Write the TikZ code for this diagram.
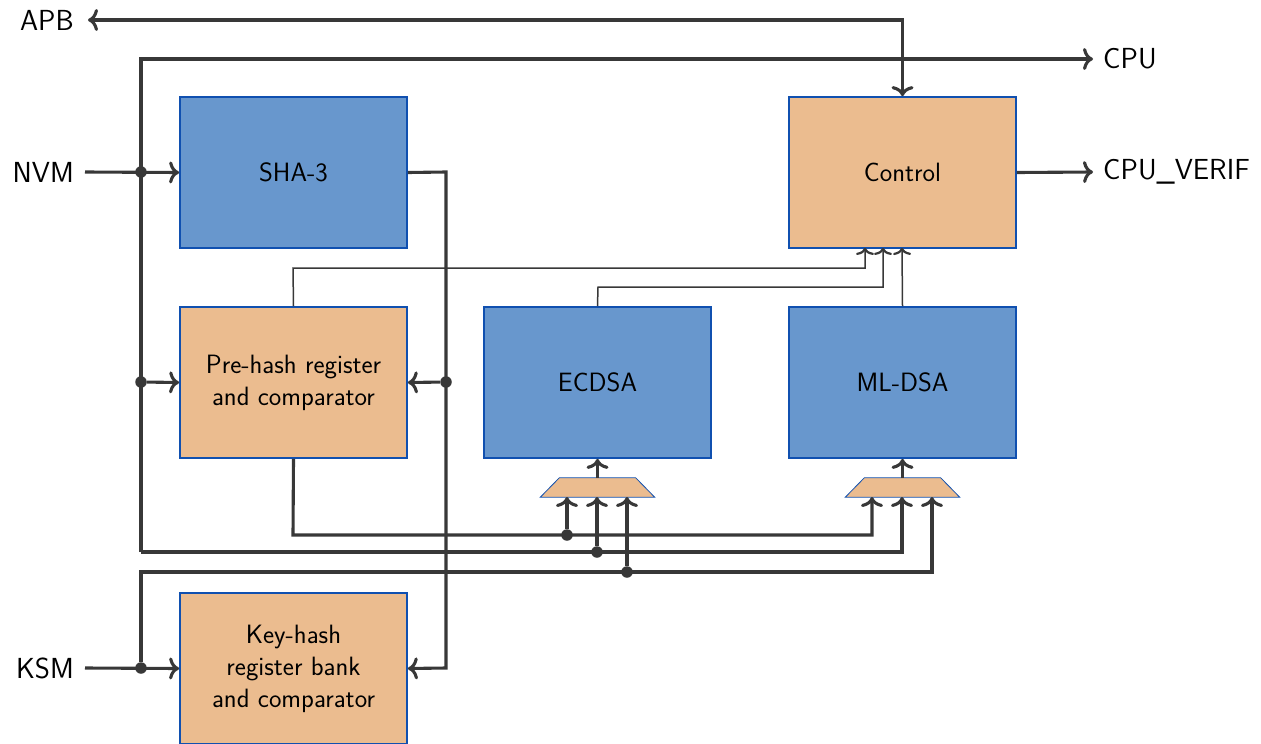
\documentclass[tikz,border=0pt]{standalone}
\usetikzlibrary{arrows.meta}
\definecolor{boxblue}{HTML}{6897CD}
\definecolor{boxtan}{HTML}{EBBC8F}
\definecolor{edgeblue}{HTML}{1050B0}
\definecolor{wirec}{HTML}{383838}
\tikzset{
  blk/.style={draw=edgeblue, line width=1.8pt, minimum width=227pt, minimum height=151pt,
    inner sep=0pt, align=center, font=\sffamily\fontsize{26.5}{32}\selectfont},
  bluebox/.style={blk, fill=boxblue},
  tanbox/.style={blk, fill=boxtan},
  muxarea/.style={rectangle, minimum width=114pt, minimum height=19pt, inner sep=0pt},
  muxshape/.style={draw=edgeblue, line width=0.8pt, fill=boxtan, line join=miter},
  wire/.style={draw=wirec, line width=3.1pt},
  thinwire/.style={draw=wirec, line width=1.5pt},
  arr/.style={-{Computer Modern Rightarrow[length=10pt,width=22pt]}},
  arrboth/.style={{Computer Modern Rightarrow[length=10pt,width=22pt]}-{Computer Modern Rightarrow[length=10pt,width=22pt]}},
  tarr/.style={-{Computer Modern Rightarrow[length=7pt,width=18pt,line width=2.2pt]}},
  jdot/.style={circle, fill=wirec, inner sep=0pt, minimum size=11.5pt},
  lbl/.style={font=\sffamily\fontsize{29}{32}\selectfont, inner ysep=0pt},
}
\begin{document}
\begin{tikzpicture}[x=1pt,y=-1pt]
\useasboundingbox (0,0) rectangle (1261,744);

% blocks
\node[bluebox] (sha) at (293.5,172.5) {SHA-3};
\node[tanbox] (ctrl) at (902.5,172.5) {Control};
\node[tanbox] (pre) at (293.5,382.5) {Pre-hash register\\and comparator};
\node[bluebox] (ecdsa) at (597.5,382.5) {ECDSA};
\node[bluebox] (mldsa) at (902.5,382.5) {ML-DSA};
\node[tanbox] (key) at (293.5,668.5) {Key-hash\\register bank\\and comparator};

% muxes
\node[muxarea] (emux) at (597.5,487.5) {};
\node[muxarea] (mmux) at (902.5,487.5) {};
\foreach \m in {emux,mmux}{
  \path[muxshape] (\m.south west) -- (\m.south east) -- ([xshift=-19pt]\m.north east)
    -- ([xshift=19pt]\m.north west) -- cycle;
}

% labels
\node[lbl, anchor=east, inner xsep=14pt] (apb) at (88,20) {APB};
\node[lbl, anchor=west, inner xsep=10pt] (cpu) at (1093,59) {CPU};
\node[lbl, anchor=west, inner xsep=10pt] (cpuv) at (1093,172) {CPU\_VERIF};
\node[lbl, anchor=east, inner xsep=11pt] (nvm) at (85,172) {NVM};
\node[lbl, anchor=east, inner xsep=11pt] (ksm) at (85,668) {KSM};

% junctions and corners
\node[jdot] (jN) at (141,172) {};
\node[jdot] (jP) at (141,382) {};
\node[jdot] (jK) at (141,668) {};
\node[jdot] (jS) at (446,382) {};
\node[jdot] (jE1) at (567,535) {};
\node[jdot] (jE2) at (597,552) {};
\node[jdot] (jE3) at (627,572) {};
\coordinate (cA) at (141,59);
\coordinate (cB) at (141,552);
\coordinate (cK) at (141,572);
\coordinate (cP) at (293,535);
\coordinate (cS1) at (446,172);
\coordinate (cS2) at (446,668);
\coordinate (cApb) at (902.5,20);
\coordinate (ei1) at (567,497);
\coordinate (ei2) at (597,497);
\coordinate (ei3) at (627,497);
\coordinate (mi1) at (872,497);
\coordinate (mi2) at (902,497);
\coordinate (mi3) at (932,497);
\coordinate (ci1) at (865,248);
\coordinate (ci2) at (883,248);
\coordinate (ci3) at (902,248);
\coordinate (t1) at (293,268);
\coordinate (t2) at (598,287);

% thick wiring
\draw[wire,arrboth] (apb.east) -- (cApb) -- (ctrl.north);
\draw[wire,arr] (cB) -- (cA) -- (cpu.west);
\draw[wire,arr] (cB) -| (mi2);
\draw[wire,arr] (nvm.east) -- (sha.west);
\draw[wire,arr] (jP) -- (pre.west);
\draw[wire,arr] (ksm.east) -- (key.west);
\draw[wire,arr] (jK) -- (cK) -| (mi3);
\draw[wire,arr] (pre.south) -- (cP) -| (mi1);
\draw[wire,arr] (sha.east) -- (cS1) -- (cS2) -- (key.east);
\draw[wire,arr] (jS) -- (pre.east);
\draw[wire,arr] (jE1) -- (ei1);
\draw[wire,arr] (jE2) -- (ei2);
\draw[wire,arr] (jE3) -- (ei3);
\draw[wire,arr] (emux.north) -- (ecdsa.south);
\draw[wire,arr] (mmux.north) -- (mldsa.south);
\draw[wire,arr] (ctrl.east) -- (cpuv.west);

% thin wiring to control
\draw[thinwire,tarr] (pre.north) -- (t1) -| (ci1);
\draw[thinwire,tarr] (ecdsa.north) -- (t2) -| (ci2);
\draw[thinwire,tarr] (mldsa.north) -- (ci3);
\end{tikzpicture}
\end{document}
